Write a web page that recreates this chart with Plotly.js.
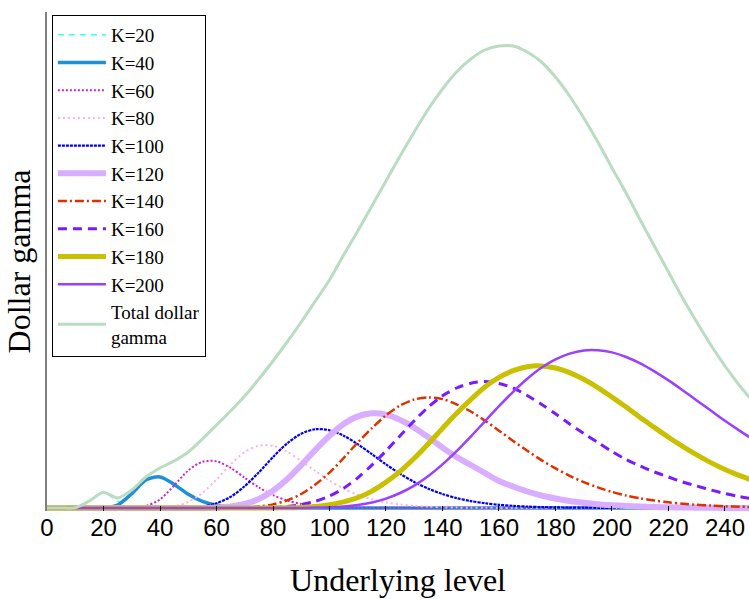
<!DOCTYPE html>
<html><head><meta charset="utf-8">
<script src="https://cdn.plot.ly/plotly-3.0.1.min.js"></script>
<style>html,body{margin:0;padding:0;background:#fff}#chart{width:749px;height:599px}</style>
</head><body><div id="chart"></div>
<script>
// Underlying level grid (x values)
const underlying = [
  0,5,10,15,20,25,30,35,40,45,
  50,55,60,65,70,75,80,85,90,95,
  100,105,110,115,120,125,130,135,140,145,
  150,155,160,165,170,175,180,185,190,195,
  200,205,210,215,220,225,230,235,240,245,
  250];

const seriesNames = ['K=20','K=40','K=60','K=80','K=100','K=120','K=140','K=160','K=180','K=200'];
const totalName = 'Total dollar<br>gamma';

const k20 = [
  0,0,0.1,7.1,15.6,6.8,1.4,0.2,0,0,
  0,0,0,0,0,0,0,0,0,0,
  0,0,0,0,0,0,0,0,0,0,
  0,0,0,0,0,0,0,0,0,0,
  0,0,0,0,0,0,0,0,0,0,
  0];
const k40 = [
  0,0,0,0,0.1,3.0,14.3,28.0,31.1,23.6,
  13.7,6.6,2.8,1.1,0.4,0.1,0,0,0,0,
  0,0,0,0,0,0,0,0,0,0,
  0,0,0,0,0,0,0,0,0,0,
  0,0,0,0,0,0,0,0,0,0,
  0];
const k60 = [
  0,0,0,0,0,0,0.2,2.0,8.6,22.5,
  37.5,46.2,46.7,40.1,30.2,20.5,12.8,7.5,4.1,2.2,
  1.1,0.5,0.3,0.1,0,0,0,0,0,0,
  0,0,0,0,0,0,0,0,0,0,
  0,0,0,0,0,0,0,0,0,0,
  0];
const k80 = [
  0,0,0,0,0,0,0,0,0.3,1.7,
  6.0,15.1,28.6,43.6,56.1,62.4,62.2,56.2,47.1,37.0,
  27.4,19.4,13.2,8.7,5.5,3.5,2.2,1.3,0.7,0.4,
  0.3,0.2,0.1,0,0,0,0,0,0,0,
  0,0,0,0,0,0,0,0,0,0,
  0];
const k100 = [
  0,0,0,0,0,0,0,0,0,0.1,
  0.4,1.5,4.7,11.2,21.8,35.7,50.9,64.6,74.3,78.8,
  77.8,72.3,63.8,53.8,43.6,34.2,26.0,19.3,14.0,9.9,
  6.9,4.8,3.2,2.2,1.4,0.9,0.6,0.4,0.3,0.2,
  0.1,0,0,0,0,0,0,0,0,0,
  0];
const k120 = [
  0,0,0,0,0,0,0,0,0,0,
  0,0.1,0.4,1.5,4.1,9.0,17.3,28.7,42.8,58.1,
  72.2,84.1,91.6,94.7,93.4,88.1,80.3,70.7,60.4,51.0,
  43.0,35.0,27.0,21.5,16.5,12.5,9.5,7.0,5.2,3.8,
  2.8,2.0,1.4,1.0,0.7,0.5,0.3,0.2,0.1,0.1,
  0];
const k140 = [
  0,0,0,0,0,0,0,0,0,0,
  0,0,0,0.1,0.5,1.5,3.6,7.7,14.0,23.5,
  35.4,50.0,65.5,79.8,92.7,102.5,108.5,110.6,108.9,103.7,
  96.5,87.4,77.3,67.1,57.3,47.9,39.6,32.2,25.9,20.6,
  16.1,12.5,9.7,7.6,5.7,4.3,3.2,2.4,1.7,1.3,
  1.0];
const k160 = [
  0,0,0,0,0,0,0,0,0,0,
  0,0,0,0,0,0.2,0.6,1.5,3.4,6.7,
  12.0,19.7,30.2,42.9,57.1,72.3,87.2,101.0,112.2,120.0,
  124.8,126.4,124.5,120.0,112.5,103.8,94.2,84.0,74.5,65.5,
  56.5,48.5,42.0,36.0,31.0,26.0,22.0,18.0,14.5,11.5,
  9.0];
const k180 = [
  0,0,0,0,0,0,0,0,0,0,
  0,0,0,0,0,0,0,0.3,0.6,1.4,
  3.2,6.1,10.3,16.9,25.9,36.7,49.7,64.3,79.6,94.7,
  108.4,121.0,130.7,137.3,141.3,142.1,140.0,135.4,128.7,120.4,
  110.9,101.0,90.5,80.6,70.7,61.6,53.1,45.4,38.5,32.6,
  27.5];
const k200 = [
  0,0,0,0,0,0,0,0,0,0,
  0,0,0,0,0,0,0,0,0,0.4,
  0.7,1.5,3.0,5.5,9.4,15.0,22.4,32.0,43.6,56.8,
  71.4,86.6,101.8,116.2,129.2,140.2,148.6,154.4,157.6,157.8,
  155.6,151.0,144.6,136.6,127.6,117.8,107.6,97.4,87.2,77.6,
  68.4];
const totalGamma = [
  0,0,0.2,7,15.8,10,18,31,40,47,
  56,69,83,97,112,129,147,166,186,207,
  228,253,277,302,327,352,376,399,419,436,
  449,458,462,462,456,446,431,412,390,366,
  340,315,288,262,236,210,186,163,142,123,
  106];

const xTicks = [0,20,40,60,80,100,120,140,160,180,200,220,240];

const seriesValues = [k20,k40,k60,k80,k100,k120,k140,k160,k180,k200];
const lineStyles = [
  {color:'#33ffff', width:1.5, dash:'6px,5px'},
  {color:'#1f8fd6', width:3.5, dash:'solid'},
  {color:'#cc22cc', width:2, dash:'2px,2px'},
  {color:'#ffb0dd', width:2, dash:'2px,3px'},
  {color:'#0000ee', width:2.2, dash:'3px,1px'},
  {color:'#d9adff', width:6, dash:'solid'},
  {color:'#e03000', width:2.5, dash:'9px,3px,2px,3px'},
  {color:'#7a1aff', width:3, dash:'9px,6px'},
  {color:'#c8c000', width:5, dash:'solid'},
  {color:'#9a40ff', width:2.5, dash:'solid'}
];

const traces = [];
seriesValues.forEach((vals, i) => {
  traces.push({
    x: underlying, y: vals, name: seriesNames[i], type:'scatter', mode:'lines',
    line: Object.assign({shape:'spline', smoothing:0.8}, lineStyles[i]),
    legendrank: i + 1
  });
});
traces.push({
  x: underlying, y: totalGamma, name: totalName, type:'scatter', mode:'lines',
  line:{color:'#b9dcc2', width:3, shape:'spline', smoothing:0.8},
  legendrank: 20
});

const layout = {
  width: 749, height: 599,
  margin: {l:47, r:0, t:12, b:88, pad:0},
  paper_bgcolor:'#ffffff', plot_bgcolor:'#ffffff',
  showlegend: true,
  legend: {
    x: 0.007, y: 0.994, xanchor:'left', yanchor:'top',
    bgcolor:'#ffffff', bordercolor:'#000000', borderwidth:1,
    font:{family:'Liberation Serif, Times New Roman, serif', size:19, color:'#000'},
    itemwidth: 48, tracegroupgap: 0
  },
  xaxis: {
    range:[0, 248.5], tickvals: xTicks, ticktext: xTicks.map(String),
    ticks:'inside', ticklen:5, tickwidth:1, tickcolor:'#000',
    showline:false, showgrid:false, zeroline:false,
    tickfont:{family:'Liberation Sans Narrow, Arial Narrow, sans-serif', size:24, color:'#000'},
    title:{text:'Underlying level', standoff:28,
      font:{family:'Liberation Serif, Times New Roman, serif', size:32, color:'#000'}}
  },
  yaxis: {
    range:[-3, 496], showticklabels:false, ticks:'',
    showgrid:false, zeroline:false, showline:true, linecolor:'#808080', linewidth:2,
    title:{text:'Dollar gamma', standoff:5,
      font:{family:'Liberation Serif, Times New Roman, serif', size:32, color:'#000'}}
  }
};

Plotly.newPlot('chart', traces, layout, {displayModeBar:false, staticPlot:true});
</script>
</body></html>
